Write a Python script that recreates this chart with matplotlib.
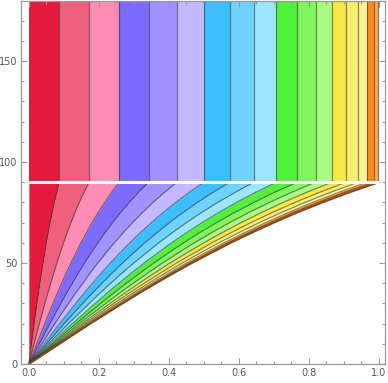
import numpy as np
import matplotlib
matplotlib.use('Agg')
import matplotlib.pyplot as plt
from matplotlib.ticker import MultipleLocator, FixedLocator

# contour levels (deg) and band colours, low to high
levels = [5, 10, 15, 20, 25, 30, 35, 40, 45, 50, 55, 60, 65, 70, 75, 80, 85]
band_colors = ['#e31a3b', '#f0607e', '#ff8cb4',
               '#7d6aff', '#a292ff', '#c4b9ff',
               '#3cbeff', '#6ed3ff', '#9ce5ff',
               '#50f03c', '#7ff65c', '#aafa84',
               '#f8e844', '#faee72', '#fcf496',
               '#ff8a1a', '#ffaa55', '#ffc890']

# x position of each contour line in the upper half (y > 90)
x_top = [0.087, 0.172, 0.258, 0.342, 0.423, 0.500, 0.574, 0.643, 0.707,
         0.766, 0.819, 0.866, 0.906, 0.940, 0.966, 0.985, 0.996]

# shape of the lower-half fan: outer edge x at each height
y_prof = [0, 5, 10, 15, 20, 25, 30, 35, 40, 45, 50, 55, 60, 65, 70, 75, 80, 85, 90]
x_prof = [0, 0.044, 0.088, 0.132, 0.176, 0.222, 0.268, 0.315, 0.364, 0.414,
          0.466, 0.521, 0.577, 0.637, 0.700, 0.767, 0.839, 0.916, 1.0]

edges = [0.0] + x_top + [1.0]
prof = np.array(x_prof)

fig = plt.figure(figsize=(3.88, 3.83), dpi=100)
ax = fig.add_axes([0.0554, 0.0496, 0.9366, 0.949])

line_kw = dict(color='#303030', alpha=0.55, lw=0.9)

# upper half: vertical bands
for i, c in enumerate(band_colors):
    ax.fill_betweenx([90, 180], edges[i], edges[i + 1], color=c, lw=0)
ax.vlines(x_top, 90, 180, **line_kw)

# lower half: fan of bands out of the origin
for i, c in enumerate(band_colors):
    ax.fill_betweenx(y_prof, edges[i] * prof, edges[i + 1] * prof,
                     color=c, lw=0)
for e in x_top:
    ax.plot(e * prof, y_prof, **line_kw)
ax.plot(prof, y_prof, color='#8a4a14', lw=1.3)

# gap between the halves
ax.plot([0, 1.0], [90, 90], color='white', lw=2.2, solid_capstyle='butt')

ax.set_xlim(-0.021, 1.017)
ax.set_ylim(0, 180)

ax.xaxis.set_major_locator(FixedLocator([0, 0.2, 0.4, 0.6, 0.8, 1.0]))
ax.xaxis.set_minor_locator(MultipleLocator(0.05))
ax.yaxis.set_major_locator(FixedLocator([0, 50, 100, 150]))
ax.yaxis.set_minor_locator(MultipleLocator(10))
ax.set_xticklabels(['0.0', '0.2', '0.4', '0.6', '0.8', '1.0'])
ax.set_yticklabels(['0', '50', '100', '150'])

ax.tick_params(which='both', direction='in', top=True, right=True,
               color='#999999', labelsize=7, labelcolor='#555555', width=0.8)
ax.tick_params(which='major', length=4, pad=3)
ax.tick_params(which='minor', length=2)
for s in ax.spines.values():
    s.set_color('#999999')
    s.set_linewidth(0.9)

fig.savefig('out.png', dpi=100)
